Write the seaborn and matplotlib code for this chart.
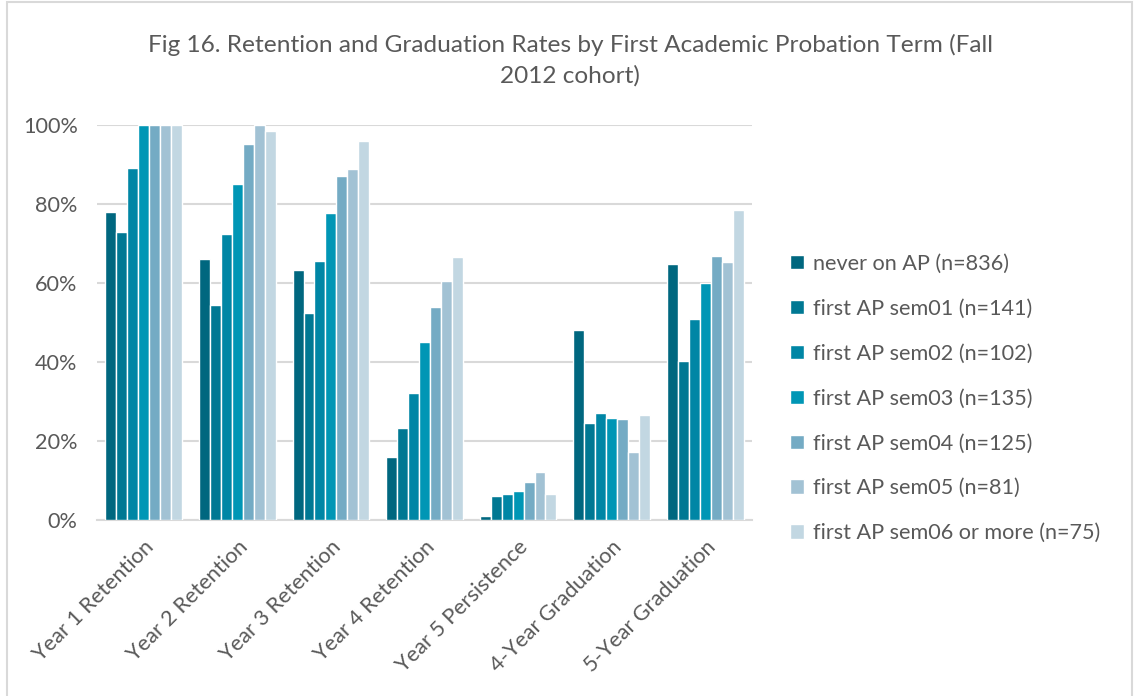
import numpy as np
import pandas as pd
import matplotlib; matplotlib.use('Agg')
import matplotlib.pyplot as plt
from matplotlib.patches import Rectangle
from matplotlib.ticker import PercentFormatter
import seaborn as sns

# ── data (in %) ──
CATEGORIES = ['Year 1 Retention', 'Year 2 Retention', 'Year 3 Retention',
              'Year 4 Retention', 'Year 5 Persistence', '4-Year Graduation',
              '5-Year Graduation']
GROUPS = ['never on AP (n=836)', 'first AP sem01 (n=141)', 'first AP sem02 (n=102)',
          'first AP sem03 (n=135)', 'first AP sem04 (n=125)', 'first AP sem05 (n=81)',
          'first AP sem06 or more (n=75)']

never_ap = [77.9, 66.2, 63.4, 16.0, 1.1, 48.0, 64.8]
sem01 = [72.9, 54.5, 52.4, 23.2, 6.2, 24.6, 40.3]
sem02 = [89.1, 72.4, 65.5, 32.2, 6.7, 27.2, 50.8]
sem03 = [100.0, 85.1, 77.7, 45.1, 7.3, 25.8, 60.0]
sem04 = [100.0, 95.1, 87.0, 53.9, 9.5, 25.6, 66.9]
sem05 = [100.0, 100.0, 88.8, 60.4, 12.2, 17.2, 65.3]
sem06 = [100.0, 98.6, 95.9, 66.5, 6.5, 26.6, 78.6]

COLORS = ['#00677F', '#007893', '#0086A5', '#0096B5', '#74ABC4', '#A2C2D4', '#C2D7E2']

TEXT = '#595959'
GRID = '#D9D9D9'

# long-form table for seaborn
series = [never_ap, sem01, sem02, sem03, sem04, sem05, sem06]
df = pd.DataFrame([
    {'measure': c, 'group': g, 'rate': v}
    for g, vals in zip(GROUPS, series)
    for c, v in zip(CATEGORIES, vals)
])

sns.set_theme(style='white')
plt.rcParams['font.family'] = ['Lato', 'DejaVu Sans']

fig = plt.figure(figsize=(11.34, 6.96), dpi=100)
ax = fig.add_axes([97 / 1134, 1 - 520 / 696, (752 - 97) / 1134, (520 - 125) / 696])

sns.barplot(data=df, x='measure', y='rate', hue='group', order=CATEGORIES,
            hue_order=GROUPS, palette=COLORS, width=0.82, saturation=1,
            edgecolor='white', linewidth=1.0, ax=ax, zorder=3)

ax.set_xlim(-0.5, len(CATEGORIES) - 0.5)
ax.set_ylim(0, 100)
ax.set_yticks(np.arange(0, 101, 20))
ax.yaxis.set_major_formatter(PercentFormatter(decimals=0))
ax.grid(axis='y', color=GRID, linewidth=1.5, zorder=0)
ax.set_axisbelow(True)
for s in ['top', 'right', 'left']:
    ax.spines[s].set_visible(False)
ax.spines['bottom'].set_color(GRID)
ax.spines['bottom'].set_linewidth(1.5)
ax.set_xlabel('')
ax.set_ylabel('')
ax.tick_params(axis='both', length=0, colors=TEXT, labelsize=15.6)
ax.tick_params(axis='y', pad=14)
ax.tick_params(axis='x', pad=12)
for lbl in ax.get_xticklabels():
    lbl.set_rotation(45)
    lbl.set_ha('right')
    lbl.set_va('top')
    lbl.set_rotation_mode('anchor')

leg = ax.legend(loc='center left', bbox_to_anchor=(1.045, 0.5 - (398 - 322) / 395),
                frameon=False, fontsize=15.6, labelcolor=TEXT, handlelength=0.65,
                handleheight=0.65, handletextpad=0.4, labelspacing=1.15, borderaxespad=0)

fig.text(0.503, 1 - 45 / 696, 'Fig 16. Retention and Graduation Rates by First Academic Probation Term (Fall',
         ha='center', va='center', fontsize=17.6, color=TEXT)
fig.text(0.503, 1 - 76 / 696, '2012 cohort)', ha='center', va='center', fontsize=17.6, color=TEXT)

# chart border
fig.patches.append(Rectangle((7 / 1134, -0.01), (1132 - 7) / 1134, 1 - 2 / 696 + 0.01,
                             transform=fig.transFigure, fill=False, edgecolor=GRID,
                             linewidth=1.5))

fig.savefig('out.png', dpi=100)
